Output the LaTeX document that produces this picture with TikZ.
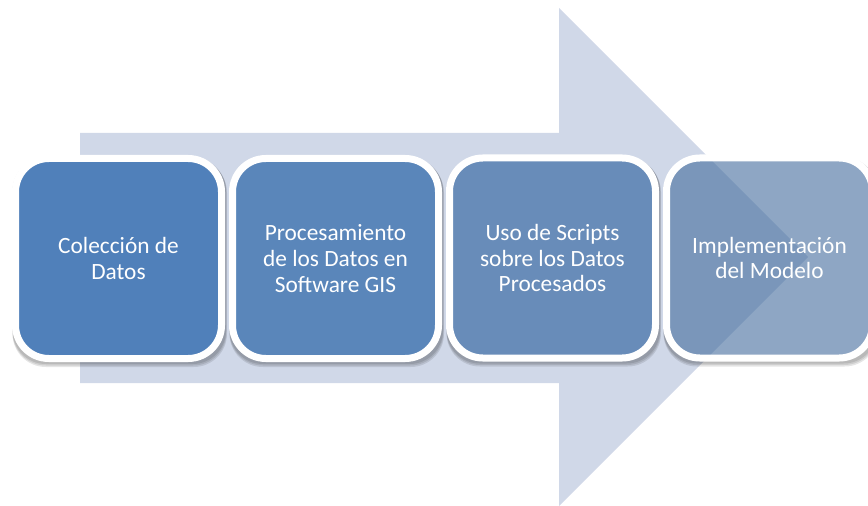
\documentclass[tikz,border=0pt]{standalone}
\usepackage{fontspec}
\setmainfont{Carlito}
\usetikzlibrary{backgrounds}

\definecolor{flecha}{RGB}{208,216,232}
\definecolor{caja1}{RGB}{80,128,186}
\definecolor{caja2}{RGB}{90,134,186}
\definecolor{caja3}{RGB}{104,140,185}
\definecolor{caja4}{RGB}{66,107,156}

\tikzset{
  paso/.style={rectangle, rounded corners=25pt, draw=white, line width=5.25pt,
    minimum width=154.5pt, minimum height=150pt, inner sep=0pt, outer sep=0pt,
    text=white, text opacity=1, align=center,
    font=\fontsize{17.5}{19.4}\selectfont},
  sombra/.style={fill=black, fill opacity=0.1, even odd rule, rounded corners=25pt}
}

\begin{document}
\begin{tikzpicture}[x=0.75pt, y=-0.75pt]
\useasboundingbox (0,0) rectangle (868,506);

\node[paso, fill=caja1] (coleccion) at (118.5,258.5) {Colección de\\Datos};
\node[paso, fill=caja2] (procesamiento) at (335.5,258.5) {Procesamiento\\de los Datos en\\Software GIS};
\node[paso, fill=caja3] (scripts) at (552.5,258) {Uso de Scripts\\sobre los Datos\\Procesados};
\node[paso, fill=caja4, fill opacity=0.6] (modelo) at (769.5,258) {Implementación\\del Modelo};

\begin{scope}[on background layer]
% flecha grande
\fill[flecha] (80,133) -- (559,133) -- (559,8) -- (808,257) -- (559,506) -- (559,383) -- (80,383) -- cycle;

% sombras
\foreach \c in {coleccion,procesamiento,scripts,modelo} {
  \foreach \s in {0,1,2} {
    \fill[sombra] ([shift={(-3,-1+\s)}]\c.north west) rectangle ([shift={(4.5+0.5*\s,5.5+1.5*\s)}]\c.south east)
      (\c.north west) rectangle (\c.south east);
  }
}
\end{scope}

\end{tikzpicture}
\end{document}
